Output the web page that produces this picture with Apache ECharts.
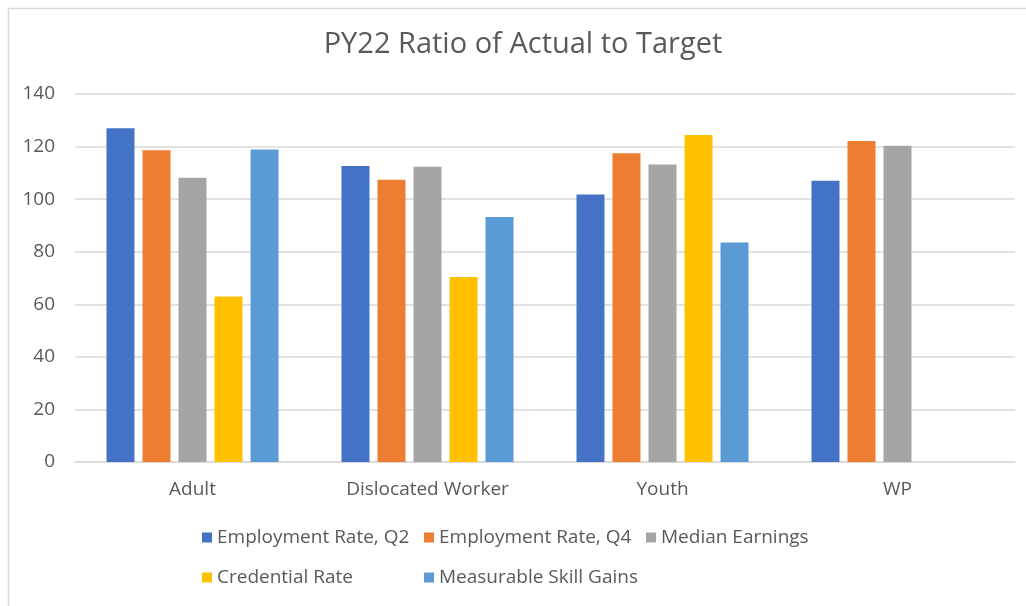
<!DOCTYPE html>
<html>
<head>
<meta charset="utf-8">
<script src="https://cdn.jsdelivr.net/npm/echarts@6/dist/echarts.min.js"></script>
<style>
html,body{margin:0;padding:0;background:#fff;}
#chart{width:1026px;height:606px;}
</style>
</head>
<body>
<div id="chart"></div>
<script>
const categories = ['Adult', 'Dislocated Worker', 'Youth', 'WP'];
const seriesNames = ['Employment Rate, Q2', 'Employment Rate, Q4', 'Median Earnings', 'Credential Rate', 'Measurable Skill Gains'];
const employmentQ2 = [127, 112.6, 101.8, 107];
const employmentQ4 = [118.6, 107.4, 117.5, 122.1];
const medianEarnings = [108.1, 112.3, 113.2, 120.3];
const credentialRate = [63, 70.4, 124.4, null];
const skillGains = [118.9, 93.2, 83.5, null];
const yTicks = [0, 20, 40, 60, 80, 100, 120, 140];

const colors = ['#4472C4', '#ED7D31', '#A5A5A5', '#FFC000', '#5B9BD5'];
const values = [employmentQ2, employmentQ4, medianEarnings, credentialRate, skillGains];
const font = '"Open Sans", sans-serif';
const txt = '#595959';

const legendPos = [[202, 528], [424, 528], [646, 528], [202, 568], [424, 568]];

const chart = echarts.init(document.getElementById('chart'));
chart.setOption({
  animation: false,
  color: colors,
  graphic: [{
    type: 'rect', left: 6, top: 6, shape: {width: 1030, height: 610},
    style: {fill: 'none', stroke: '#d9d9d9', lineWidth: 1.5}, silent: true
  }],
  title: {
    text: 'PY22 Ratio of Actual to Target',
    left: 518, top: 25, textAlign: 'center',
    textStyle: {fontFamily: font, fontSize: 29, fontWeight: 'normal', color: txt}
  },
  legend: seriesNames.map((n, i) => ({
    data: [n], left: legendPos[i][0], top: legendPos[i][1], padding: 0,
    icon: 'rect', itemWidth: 10, itemHeight: 10, itemGap: 0,
    textStyle: {fontFamily: font, fontSize: 19, color: txt}
  })),
  grid: {left: 75, right: 11, top: 94, bottom: 144, outerBoundsMode: 'none', containLabel: false},
  xAxis: {
    type: 'category', data: categories,
    axisLine: {lineStyle: {color: '#d9d9d9', width: 1.5}},
    axisTick: {show: false},
    axisLabel: {fontFamily: font, fontSize: 19, color: txt, margin: 18}
  },
  yAxis: {
    type: 'value', min: yTicks[0], max: yTicks[yTicks.length - 1], interval: 20,
    axisLine: {show: false}, axisTick: {show: false},
    splitLine: {lineStyle: {color: '#d9d9d9', width: 1.5}},
    axisLabel: {fontFamily: font, fontSize: 19, color: txt, margin: 20}
  },
  series: seriesNames.map((n, i) => ({
    name: n, type: 'bar', data: values[i],
    barWidth: 28, barGap: '28.6%'
  }))
});
</script>
</body>
</html>
